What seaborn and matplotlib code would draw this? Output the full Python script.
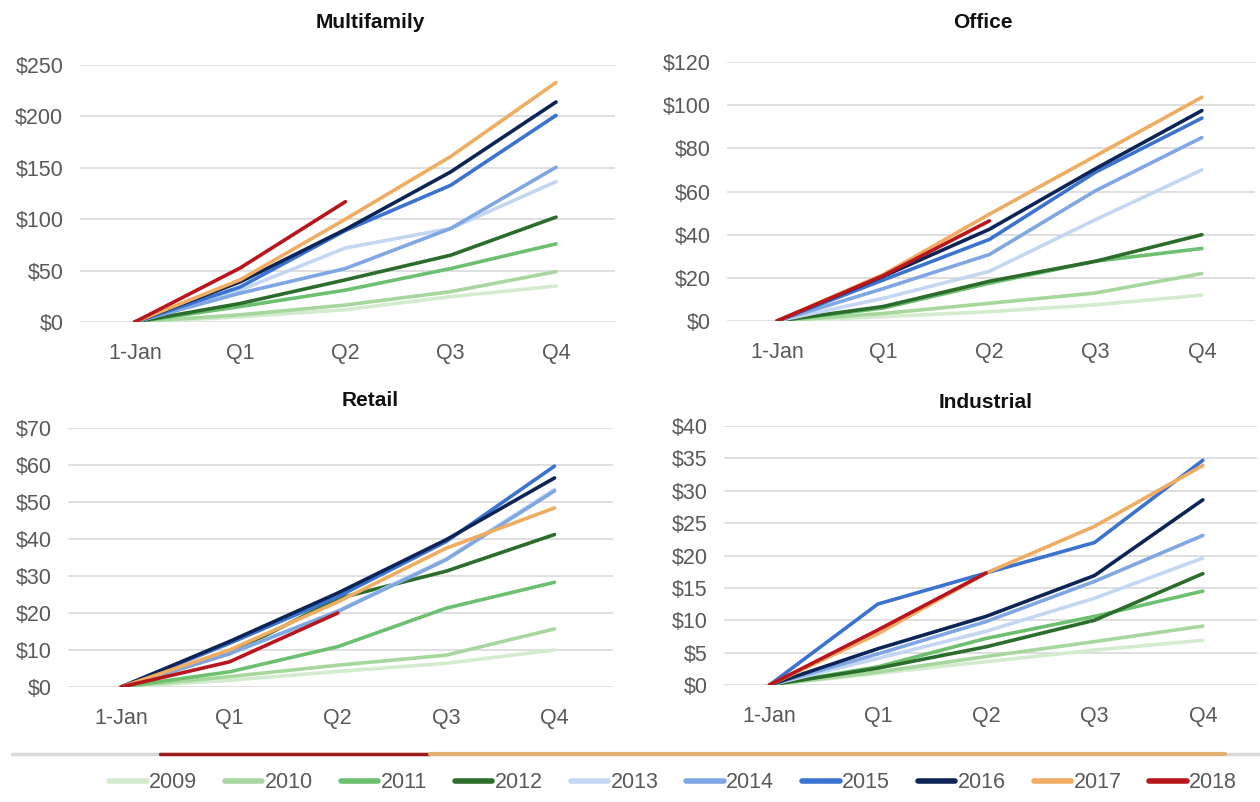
import numpy as np
import pandas as pd
import matplotlib
matplotlib.use("Agg")
import matplotlib.pyplot as plt
from matplotlib.ticker import FuncFormatter
import seaborn as sns

# ---------------- data ----------------
periods = ["1-Jan", "Q1", "Q2", "Q3", "Q4"]
years = ["2009", "2010", "2011", "2012", "2013", "2014", "2015", "2016", "2017", "2018"]
nan = np.nan

multifamily = {
    "2009": [0, 5, 12, 24.6, 35],
    "2010": [0, 7, 16.5, 29.5, 49],
    "2011": [0, 15, 31, 52, 76],
    "2012": [0, 18, 41, 65, 102],
    "2013": [0, 31, 72, 91, 136.5],
    "2014": [0, 28, 52, 91, 150.5],
    "2015": [0, 34, 89, 133, 201],
    "2016": [0, 39, 90, 146, 214],
    "2017": [0, 41, 100, 161, 233],
    "2018": [0, 52.5, 117, nan, nan],
}
office = {
    "2009": [0, 2, 4.3, 7.5, 12],
    "2010": [0, 3.5, 8.2, 13, 22],
    "2011": [0, 6, 17.5, 27.7, 33.6],
    "2012": [0, 6.7, 18.4, 27.7, 40],
    "2013": [0, 10.5, 23, 47, 70],
    "2014": [0, 15, 30.8, 60.4, 85],
    "2015": [0, 19, 37.8, 69, 94],
    "2016": [0, 20.7, 42.5, 70.6, 97.5],
    "2017": [0, 21.5, 49.5, 76.5, 103.7],
    "2018": [0, 21, 46.4, nan, nan],
}
retail = {
    "2009": [0, 1.8, 4.2, 6.4, 10],
    "2010": [0, 2.8, 5.9, 8.6, 15.7],
    "2011": [0, 4.1, 10.9, 21.3, 28.3],
    "2012": [0, 9, 23.9, 31.3, 41.2],
    "2013": [0, 9, 20.6, 34.6, 53.4],
    "2014": [0, 9, 20.4, 34.4, 53],
    "2015": [0, 11.8, 24.4, 39.3, 59.7],
    "2016": [0, 12.3, 25.4, 39.8, 56.5],
    "2017": [0, 10, 23, 37.5, 48.4],
    "2018": [0, 6.8, 20, nan, nan],
}
industrial = {
    "2009": [0, 1.8, 3.6, 5.4, 6.9],
    "2010": [0, 2, 4.4, 6.7, 9.1],
    "2011": [0, 2.8, 7.2, 10.6, 14.5],
    "2012": [0, 2.6, 5.9, 10, 17.2],
    "2013": [0, 4.1, 8.3, 13.4, 19.6],
    "2014": [0, 4.8, 9.8, 16, 23.1],
    "2015": [0, 12.5, 17.3, 22, 34.7],
    "2016": [0, 5.6, 10.6, 16.9, 28.6],
    "2017": [0, 7.9, 17.3, 24.5, 33.9],
    "2018": [0, 8.5, 17.3, nan, nan],
}

panel_titles = ["Multifamily", "Office", "Retail", "Industrial"]
panel_data = [multifamily, office, retail, industrial]
y_max = [250, 120, 70, 40]
y_step = [50, 20, 10, 5]

colors = {
    "2009": "#d3ecce",
    "2010": "#a6d89e",
    "2011": "#6cc070",
    "2012": "#2b6d2b",
    "2013": "#c3d6f2",
    "2014": "#7fa7e3",
    "2015": "#3b73d1",
    "2016": "#0d2556",
    "2017": "#f0ad62",
    "2018": "#b8161c",
}

# ---------------- style ----------------
sns.set_theme(style="white")
plt.rcParams["font.family"] = ["Liberation Sans Narrow", "Liberation Sans", "DejaVu Sans"]

fig = plt.figure(figsize=(12.6, 8.02), dpi=100)
W, H = 1260, 802

# axes rectangles in pixels: left, right, top, bottom (gridline extents)
rects = [
    (80, 615, 65, 322),
    (727, 1255, 62, 321),
    (68, 613, 428, 687),
    (724, 1257, 426, 685),
]
xlims = [(-0.52, 4.56), (-0.47, 4.5), (-0.49, 4.54), (-0.42, 4.5)]
title_x = [370, 983, 370, 986]
title_y = [22, 22, 400, 403]

grid_col = "#d9d9d9"
text_col = "#595959"

for i in range(4):
    l, r, t, b = rects[i]
    ax = fig.add_axes([l / W, 1 - b / H, (r - l) / W, (b - t) / H])
    rows = []
    for yr in years:
        for k, p in enumerate(periods):
            rows.append({"pos": k, "value": panel_data[i][yr][k], "year": yr})
    df = pd.DataFrame(rows).dropna()
    sns.lineplot(data=df, x="pos", y="value", hue="year", hue_order=years,
                 palette=colors, linewidth=2.6, ax=ax, legend=False,
                 solid_capstyle="round", solid_joinstyle="round")
    ax.set_ylim(0, y_max[i])
    ax.set_xlim(*xlims[i])
    ax.set_yticks(np.arange(0, y_max[i] + 0.1, y_step[i]))
    ax.yaxis.set_major_formatter(FuncFormatter(lambda v, _: f"${v:.0f}"))
    ax.set_xticks(range(len(periods)))
    ax.set_xticklabels(periods)
    ax.set_xlabel("")
    ax.set_ylabel("")
    ax.grid(axis="y", color=grid_col, linewidth=1.2)
    ax.set_axisbelow(True)
    for s in ax.spines.values():
        s.set_visible(False)
    ax.tick_params(axis="both", length=0, labelsize=15.5, colors=text_col)
    ax.tick_params(axis="x", pad=15)
    ax.tick_params(axis="y", pad=12)
    fig.text(title_x[i] / W, 1 - title_y[i] / H, panel_titles[i],
             ha="center", va="center", fontsize=15, fontweight="bold", color="#111111")

# decorative range bar under the charts
bar_ax = fig.add_axes([0, 1 - 760 / H, 1, 12 / H])
bar_ax.set_axis_off()
bar_ax.set_xlim(0, W)
bar_ax.set_ylim(0, 1)
bar_ax.axhline(0.5, xmin=12 / W, xmax=1.0, color="#d9d9d9", linewidth=2.5)
bar_ax.axhline(0.5, xmin=160 / W, xmax=430 / W, color="#9b1c1c", linewidth=2.5)
bar_ax.axhline(0.5, xmin=430 / W, xmax=1225 / W, color="#e2b172", linewidth=3)

# legend
handles = [plt.Line2D([], [], color=colors[y], linewidth=4) for y in years]
leg = fig.legend(handles, years, loc="center", ncol=10, frameon=False,
                 bbox_to_anchor=(673 / W, 1 - 783 / H), fontsize=15.5,
                 handlelength=1.75, handletextpad=0.1, columnspacing=1.3)
for txt in leg.get_texts():
    txt.set_color(text_col)

fig.savefig("out.png", dpi=100)
